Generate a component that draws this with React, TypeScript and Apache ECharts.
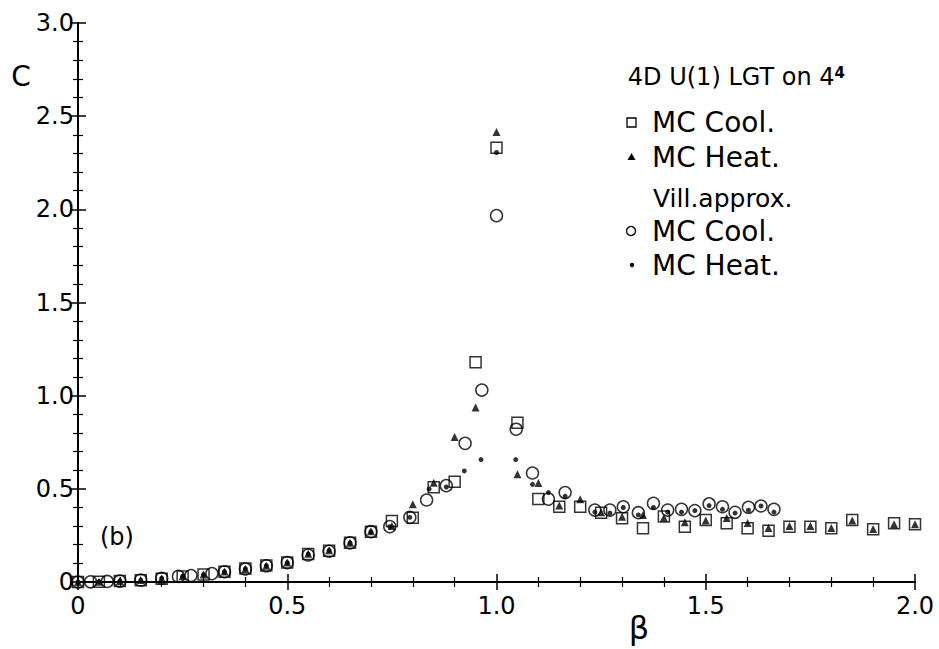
import React, { useEffect, useRef } from "react";
import * as echarts from "echarts";

// Wilson action, MC cooling (open squares)
const wilsonCoolBeta = [0, 0.05, 0.1, 0.15, 0.2, 0.25, 0.3, 0.35, 0.4, 0.45, 0.5, 0.55, 0.6, 0.65, 0.7, 0.75, 0.8, 0.85, 0.9, 0.95, 1.0, 1.05, 1.1, 1.15, 1.2, 1.25, 1.3, 1.35, 1.4, 1.45, 1.5, 1.55, 1.6, 1.65, 1.7, 1.75, 1.8, 1.85, 1.9, 1.95, 2.0];
const wilsonCoolC = [0, 0.002, 0.005, 0.01, 0.018, 0.03, 0.04, 0.055, 0.072, 0.088, 0.105, 0.15, 0.168, 0.21, 0.27, 0.327, 0.345, 0.508, 0.538, 1.18, 2.33, 0.855, 0.445, 0.404, 0.404, 0.372, 0.342, 0.288, 0.351, 0.297, 0.333, 0.315, 0.288, 0.275, 0.297, 0.297, 0.288, 0.333, 0.283, 0.315, 0.31];

// Wilson action, MC heating (filled triangles)
const wilsonHeatBeta = [0, 0.05, 0.1, 0.15, 0.2, 0.25, 0.3, 0.35, 0.4, 0.45, 0.5, 0.55, 0.6, 0.65, 0.7, 0.75, 0.8, 0.85, 0.9, 0.95, 1.0, 1.05, 1.1, 1.15, 1.2, 1.25, 1.3, 1.35, 1.4, 1.45, 1.5, 1.55, 1.6, 1.65, 1.7, 1.75, 1.8, 1.85, 1.9, 1.95, 2.0];
const wilsonHeatC = [0, 0.002, 0.006, 0.011, 0.019, 0.031, 0.04, 0.056, 0.07, 0.087, 0.104, 0.152, 0.17, 0.21, 0.272, 0.3, 0.417, 0.533, 0.778, 0.936, 2.415, 0.578, 0.531, 0.41, 0.444, 0.375, 0.35, 0.36, 0.345, 0.32, 0.33, 0.343, 0.317, 0.29, 0.3, 0.3, 0.29, 0.33, 0.285, 0.31, 0.31];

// Villain approximation, MC cooling (open circles)
const villCoolBeta = [0, 0.03, 0.07, 0.1, 0.15, 0.2, 0.24, 0.27, 0.32, 0.35, 0.4, 0.45, 0.5, 0.55, 0.6, 0.65, 0.7, 0.745, 0.793, 0.833, 0.88, 0.925, 0.965, 1.0, 1.047, 1.086, 1.124, 1.164, 1.235, 1.271, 1.303, 1.339, 1.375, 1.409, 1.442, 1.474, 1.508, 1.54, 1.57, 1.602, 1.632, 1.663];
const villCoolC = [0, 0.001, 0.003, 0.005, 0.01, 0.02, 0.03, 0.035, 0.045, 0.055, 0.07, 0.087, 0.104, 0.145, 0.165, 0.21, 0.27, 0.297, 0.347, 0.44, 0.517, 0.744, 1.03, 1.966, 0.82, 0.585, 0.445, 0.48, 0.386, 0.386, 0.404, 0.372, 0.422, 0.386, 0.39, 0.383, 0.419, 0.404, 0.374, 0.401, 0.408, 0.39];

// Villain approximation, MC heating (small dots)
const villHeatBeta = [0, 0.05, 0.1, 0.15, 0.2, 0.25, 0.3, 0.35, 0.4, 0.45, 0.5, 0.55, 0.6, 0.65, 0.7, 0.745, 0.793, 0.839, 0.88, 0.923, 0.963, 1.0, 1.046, 1.086, 1.124, 1.164, 1.235, 1.271, 1.303, 1.339, 1.375, 1.409, 1.442, 1.474, 1.508, 1.54, 1.57, 1.602, 1.632, 1.663];
const villHeatC = [0, 0.002, 0.006, 0.01, 0.02, 0.03, 0.04, 0.055, 0.072, 0.088, 0.104, 0.15, 0.17, 0.21, 0.27, 0.297, 0.347, 0.499, 0.51, 0.596, 0.657, 2.305, 0.657, 0.524, 0.48, 0.46, 0.375, 0.37, 0.4, 0.36, 0.4, 0.375, 0.375, 0.383, 0.41, 0.39, 0.37, 0.385, 0.408, 0.375];

const zip = (xs: number[], ys: number[]) => xs.map((x, i) => [x, ys[i]]);
const FONT = "DejaVu Sans";
const fmt = (v: number) => (v === 0 ? "0" : v.toFixed(1));

export default function App() {
  const ref = useRef<HTMLDivElement>(null);
  useEffect(() => {
    const chart = echarts.init(ref.current!, null, { renderer: "svg" });
    const axisCommon = {
      type: "value" as const,
      axisLine: { show: true, lineStyle: { color: "#000", width: 2 } },
      axisTick: { show: true, inside: true, length: 8, lineStyle: { color: "#000", width: 1.5 } },
      minorTick: { show: true, splitNumber: 5, length: 5, lineStyle: { color: "#000", width: 1.2 } },
      splitLine: { show: false },
      minorSplitLine: { show: false },
      interval: 0.5,
    };
    const labelStyle = { color: "#000", fontFamily: FONT, fontSize: 24, formatter: fmt };
    const open = { color: "rgba(0,0,0,0)", borderColor: "#000", borderWidth: 1.5 };
    const legendText = (x: number, y: number, text: string, size = 28) => ({
      type: "text", x, y,
      style: { text, fontFamily: FONT, fontSize: size, fill: "#000", align: "left", verticalAlign: "middle" },
    });
    const option = {
      animation: false,
      backgroundColor: "#fff",
      grid: { left: 78, right: 24, top: 23, bottom: 67 },
      xAxis: [
        { ...axisCommon, min: 0, max: 2, position: "bottom", axisLabel: { ...labelStyle, margin: 12 } },
        { ...axisCommon, min: 0, max: 2, position: "top", axisLabel: { show: false } },
      ],
      yAxis: [
        { ...axisCommon, min: 0, max: 3, position: "left", axisLabel: { ...labelStyle, margin: 4 } },
        { ...axisCommon, min: 0, max: 3, position: "right", axisLabel: { show: false } },
      ],
      series: [
        { type: "scatter", name: "Wilson MC Cool.", symbol: "rect", symbolSize: 11, data: zip(wilsonCoolBeta, wilsonCoolC), itemStyle: open },
        { type: "scatter", name: "Vill. MC Cool.", symbol: "circle", symbolSize: 12, data: zip(villCoolBeta, villCoolC), itemStyle: open },
        { type: "scatter", name: "Wilson MC Heat.", symbol: "triangle", symbolSize: 8, data: zip(wilsonHeatBeta, wilsonHeatC), itemStyle: { color: "#000" } },
        { type: "scatter", name: "Vill. MC Heat.", symbol: "circle", symbolSize: 5, data: zip(villHeatBeta, villHeatC), itemStyle: { color: "#000" } },
      ],
      graphic: [
        { type: "text", x: 21, y: 76, style: { text: "C", fontFamily: FONT, fontSize: 28, fill: "#000", align: "center", verticalAlign: "middle" } },
        { type: "text", x: 639, y: 628, style: { text: "β", fontFamily: FONT, fontSize: 32, fill: "#000", align: "center", verticalAlign: "middle" } },
        { type: "text", x: 100, y: 537, style: { text: "(b)", fontFamily: FONT, fontSize: 24, fill: "#000", align: "left", verticalAlign: "middle" } },
        {
          type: "text", x: 845, y: 77,
          style: {
            text: "4D U(1) LGT on 4{s|4}", fontFamily: FONT, fontSize: 24, fill: "#000", align: "right", verticalAlign: "middle",
            rich: { s: { fontSize: 15, fontWeight: "bold", fontFamily: FONT, verticalAlign: "top", fill: "#000" } },
          },
        },
        { type: "rect", shape: { x: 627, y: 118, width: 9, height: 9 }, style: { fill: "none", stroke: "#000", lineWidth: 1.3 } },
        legendText(652, 122, "MC Cool."),
        { type: "polygon", shape: { points: [[631.5, 153], [627.5, 160], [635.5, 160]] }, style: { fill: "#000" } },
        legendText(652, 157, "MC Heat."),
        legendText(653, 198, "Vill.approx.", 25),
        { type: "circle", shape: { cx: 631, cy: 231, r: 4.5 }, style: { fill: "none", stroke: "#000", lineWidth: 1.3 } },
        legendText(652, 231, "MC Cool."),
        { type: "circle", shape: { cx: 632, cy: 265, r: 2.2 }, style: { fill: "#000" } },
        legendText(652, 265, "MC Heat."),
      ],
    };
    chart.setOption(option as any);
    return () => chart.dispose();
  }, []);
  return <div ref={ref} style={{ position: "fixed", left: 0, top: 0, width: 939, height: 649, background: "#fff" }} />;
}
